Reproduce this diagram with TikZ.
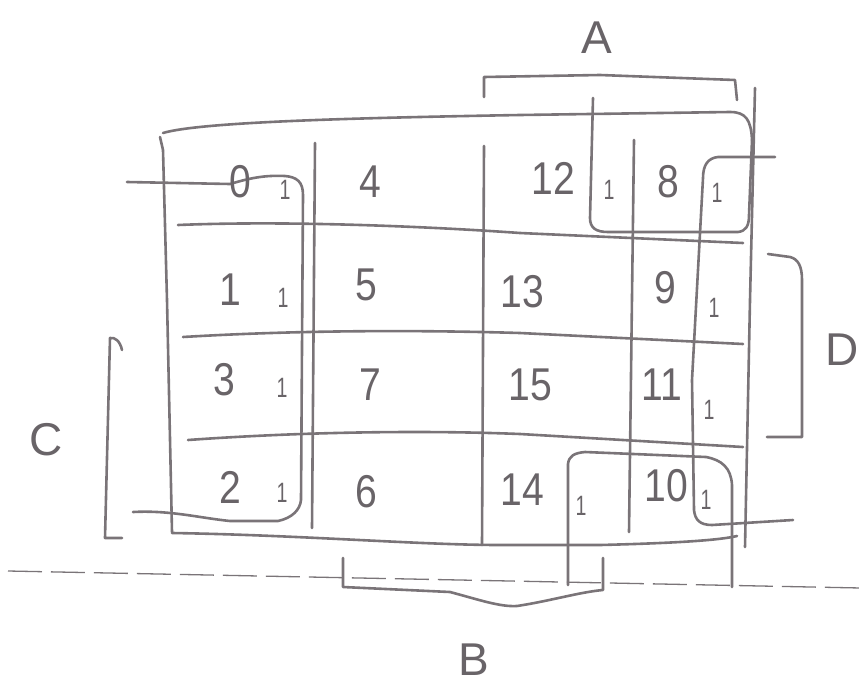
\documentclass[tikz,border=0pt]{standalone}
\usepackage{fontspec}
\setmainfont{Liberation Sans}
\definecolor{pencil}{RGB}{122,116,120}
\definecolor{ink}{RGB}{105,100,104}
\begin{document}
\begin{tikzpicture}[x=1pt,y=-1pt,
  pen/.style={draw=pencil, line width=2.6pt, line cap=round, line join=round},
  dashpen/.style={draw=pencil, line width=1.3pt, dash pattern=on 34pt off 9pt},
  big/.style={text=ink, font=\fontsize{46}{46}\selectfont, inner sep=0pt, xscale=0.85},
  one/.style={text=ink, font=\fontsize{28}{28}\selectfont, inner sep=0pt, xscale=0.7},
  lab/.style={text=ink, font=\fontsize{46}{46}\selectfont, inner sep=0pt}]
\useasboundingbox (0,0) rectangle (861,688);

% dashed line
\draw[dashpen] (8,571) -- (861,588);

% outer frame (left, top with rounded corner, bottom)
\draw[pen] (172,532) -- (167,300) -- (163,150) -- (160,137);
\draw[pen] (163,133) .. controls (200,122) and (350,118) .. (520,115)
  -- (730,112) .. controls (746,112) and (751,120) .. (752,140);
\draw[pen] (172,533) .. controls (300,535) and (420,545) .. (500,545)
  -- (600,545) .. controls (680,543) and (720,540) .. (737,536);
% right outer vertical
\draw[pen] (755,88) -- (750,300) -- (745,547);

% grid verticals
\draw[pen] (315,143) -- (312,528);
\draw[pen] (484,146) -- (482,545);
\draw[pen] (634,140) -- (629,532);

% grid horizontals
\draw[pen] (178,225) .. controls (300,220) and (450,228) .. (520,233) -- (743,243);
\draw[pen] (183,337) .. controls (300,330) and (420,330) .. (520,333) -- (743,344);
\draw[pen] (188,440) .. controls (300,432) and (420,430) .. (520,434) -- (743,447);

% group: column 0
\draw[pen] (127,182) -- (230,184) .. controls (250,178) and (265,175) .. (285,176)
  .. controls (297,177) and (303,182) .. (303,195) -- (301,500)
  .. controls (300,510) and (292,518) .. (278,521) -- (230,521)
  .. controls (200,518) and (170,510) .. (133,512);

% group: 12 and 8
\draw[pen] (593,98) -- (590,218) .. controls (590,228) and (596,232) .. (608,232)
  -- (738,232) .. controls (746,231) and (749,226) .. (749,215) -- (752,140);

% group: column 3
\draw[pen] (775,157) -- (718,157) .. controls (708,158) and (703,165) .. (703,178)
  -- (692,380) -- (694,510) .. controls (695,520) and (700,525) .. (712,525) -- (793,520);

% group: 14 and 10
\draw[pen] (568,585) -- (568,464) .. controls (569,456) and (574,453) .. (585,452)
  -- (706,457) .. controls (722,460) and (731,468) .. (732,485) -- (732,587);

% bracket A
\draw[pen] (484,97) -- (484,77) -- (600,75) -- (735,80) -- (737,100);
% bracket B
\draw[pen] (343,558) -- (343,587) -- (450,592) .. controls (480,600) and (500,607) .. (517,606)
  .. controls (550,601) and (580,592) .. (603,590) -- (603,558);
% bracket C
\draw[pen] (122,350) .. controls (120,341) and (115,337) .. (110,338) -- (105,538) -- (122,538);
% bracket D
\draw[pen] (768,254) -- (790,257) .. controls (798,259) and (802,266) .. (802,280) -- (802,437) -- (767,437);

% labels
\node[lab] (A) at (597,38) {A};
\node[lab] (B) at (474,660) {B};
\node[lab] (C) at (46,440) {C};
\node[lab] (D) at (842,350) {D};

% cell numbers
\node[big] (n0) at (240,182) {0};
\node[big] (n4) at (370,182) {4};
\node[big] (n12) at (553,178) {12};
\node[big] (n8) at (668,182) {8};
\node[big] (n1) at (230,290) {1};
\node[big] (n5) at (366,285) {5};
\node[big] (n13) at (522,292) {13};
\node[big] (n9) at (665,288) {9};
\node[big] (n3) at (224,380) {3};
\node[big] (n7) at (370,385) {7};
\node[big] (n15) at (530,385) {15};
\node[big] (n11) at (662,385) {11};
\node[big] (n2) at (230,487) {2};
\node[big] (n6) at (366,492) {6};
\node[big] (n14) at (522,490) {14};
\node[big] (n10) at (666,486) {10};

% ones
\node[one] (o0) at (285,190) {1};
\node[one] (o12) at (609,190) {1};
\node[one] (o8) at (717,193) {1};
\node[one] (o1) at (283,298) {1};
\node[one] (o9) at (714,308) {1};
\node[one] (o3) at (282,388) {1};
\node[one] (o11) at (709,410) {1};
\node[one] (o2) at (282,493) {1};
\node[one] (o14) at (581,506) {1};
\node[one] (o10) at (706,500) {1};
\end{tikzpicture}
\end{document}
